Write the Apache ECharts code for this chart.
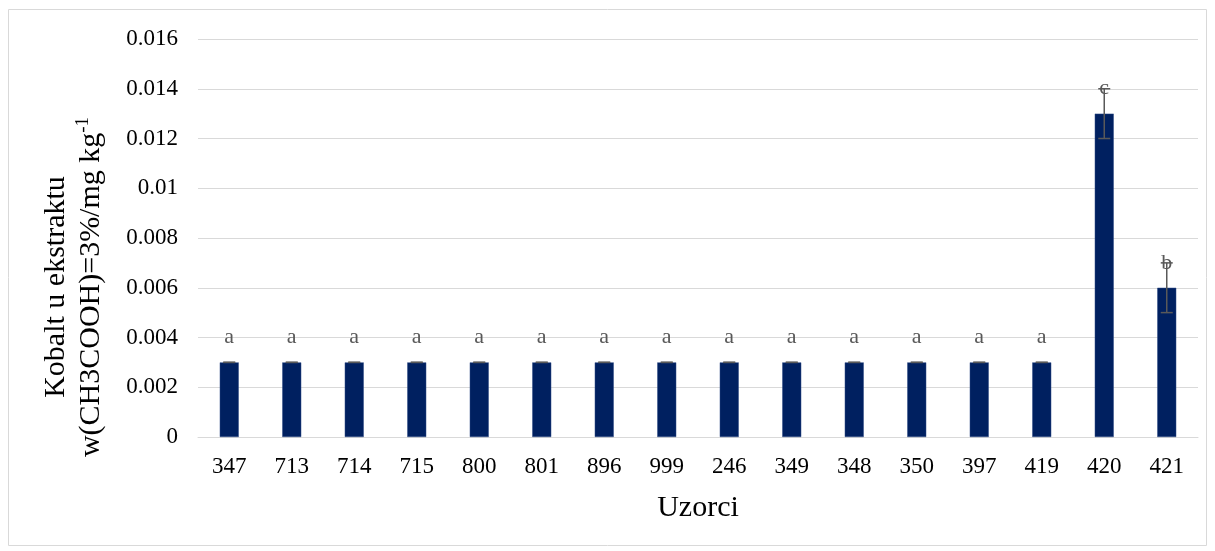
<!DOCTYPE html>
<html>
<head>
<meta charset="utf-8">
<script src="https://cdn.jsdelivr.net/npm/echarts@6/dist/echarts.min.js"></script>
<style>
  html, body { margin: 0; padding: 0; background: #fff; }
  #chart { width: 1215px; height: 551px; }
</style>
</head>
<body>
<div id="chart"></div>
<script>
// uzorci i vrijednosti
const categories = ['347', '713', '714', '715', '800', '801', '896', '999', '246', '349', '348', '350', '397', '419', '420', '421'];
const values = [0.003, 0.003, 0.003, 0.003, 0.003, 0.003, 0.003, 0.003, 0.003, 0.003, 0.003, 0.003, 0.003, 0.003, 0.013, 0.006];
const errors = [0, 0, 0, 0, 0, 0, 0, 0, 0, 0, 0, 0, 0, 0, 0.001, 0.001];
const letters = ['a', 'a', 'a', 'a', 'a', 'a', 'a', 'a', 'a', 'a', 'a', 'a', 'a', 'a', 'c', 'b'];

const font = '"Liberation Serif", "Times New Roman", serif';

const chart = echarts.init(document.getElementById('chart'));

const option = {
    animation: false,
    graphic: [
        {
            type: 'rect',
            shape: { x: 8.5, y: 9.5, width: 1198, height: 536 },
            style: { fill: 'none', stroke: '#d9d9d9', lineWidth: 1 },
            silent: true
        }
    ],
    grid: {
        left: 198,
        right: 17,
        top: 39,
        bottom: 114
    },
    xAxis: {
        type: 'category',
        data: categories,
        name: 'Uzorci',
        nameLocation: 'middle',
        nameGap: 56,
        nameTextStyle: { fontFamily: font, fontSize: 30, color: '#000' },
        axisLine: { lineStyle: { color: '#d9d9d9', width: 1 } },
        axisTick: { show: false },
        axisLabel: { fontFamily: font, fontSize: 23, color: '#000', margin: 18 }
    },
    yAxis: {
        type: 'value',
        min: 0,
        max: 0.016,
        interval: 0.002,
        name: 'Kobalt u ekstraktu\nw(CH3COOH)=3%/mg kg{sup|-1}',
        nameLocation: 'middle',
        nameGap: 89,
        nameTextStyle: {
            fontFamily: font,
            fontSize: 30,
            color: '#000',
            lineHeight: 35,
            padding: [0, 98, 0, 0],
            rich: {
                sup: { fontFamily: font, fontSize: 19, color: '#000', verticalAlign: 'top', padding: [0, 0, 16, 0] }
            }
        },
        axisLine: { show: false },
        axisTick: { show: false },
        splitLine: { lineStyle: { color: '#d9d9d9', width: 1 } },
        axisLabel: { fontFamily: font, fontSize: 23, color: '#000', margin: 20 }
    },
    series: [
        {
            type: 'bar',
            data: values,
            barWidth: 19,
            itemStyle: { color: '#002060', borderColor: '#2f4a85', borderWidth: 0.5 },
            label: {
                show: true,
                position: 'top',
                distance: 14,
                fontFamily: font,
                fontSize: 22,
                color: '#595959',
                formatter: p => letters[p.dataIndex]
            },
            z: 2
        },
        {
            // error bars
            type: 'custom',
            data: values.map((v, i) => [i, v, errors[i]]),
            renderItem: function (params, api) {
                const x = api.value(0);
                const v = api.value(1);
                const e = api.value(2);
                const lo = api.coord([x, v - e]);
                const hi = api.coord([x, v + e]);
                const half = 6;
                const style = { stroke: '#595959', lineWidth: 1.5 };
                return {
                    type: 'group',
                    children: [
                        { type: 'line', shape: { x1: lo[0], y1: lo[1], x2: hi[0], y2: hi[1] }, style: style },
                        { type: 'line', shape: { x1: lo[0] - half, y1: lo[1], x2: lo[0] + half, y2: lo[1] }, style: style },
                        { type: 'line', shape: { x1: hi[0] - half, y1: hi[1], x2: hi[0] + half, y2: hi[1] }, style: style }
                    ]
                };
            },
            z: 5
        }
    ]
};

chart.setOption(option);
</script>
</body>
</html>
